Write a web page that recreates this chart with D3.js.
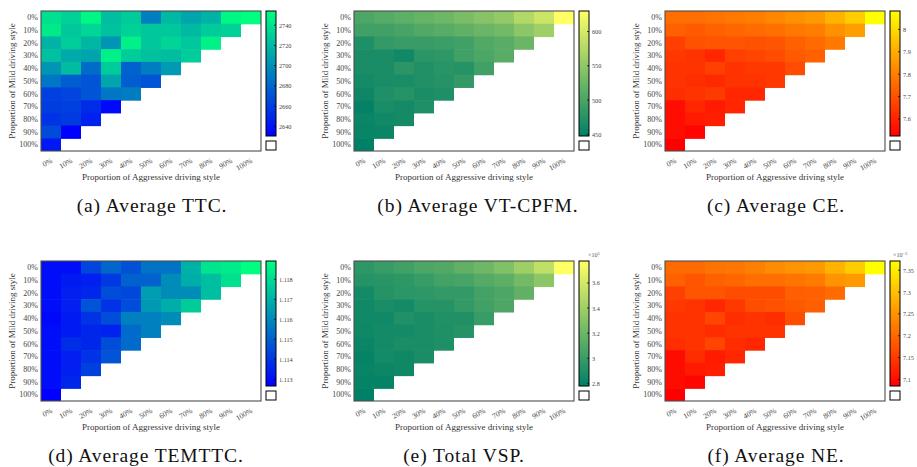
<!DOCTYPE html>
<html><head><meta charset="utf-8">
<script src="https://cdn.jsdelivr.net/npm/d3@7"></script>
<style>
body{margin:0;background:#fff}
svg{display:block}
text{font-family:"Liberation Serif","Times New Roman",serif}
</style>
</head><body>
<svg id="chart" width="917" height="467"></svg>
<script>
// ---------- data ----------
const aggressiveLabels = ["0%","10%","20%","30%","40%","50%","60%","70%","80%","90%","100%"];
const mildLabels       = ["0%","10%","20%","30%","40%","50%","60%","70%","80%","90%","100%"];

// rows: Mild proportion 0%..100%; columns: Aggressive proportion 0%..(100%-mild)
const ttc = [
  [2739,2732,2750,2723,2729,2692,2720,2711,2717,2750,2754],
  [2744,2727,2734,2725,2732,2727,2727,2720,2729,2732],
  [2717,2730,2719,2702,2747,2727,2733,2727,2747],
  [2724,2713,2710,2747,2729,2724,2722,2730],
  [2702,2722,2683,2729,2678,2691,2705],
  [2688,2676,2671,2711,2676,2671],
  [2661,2664,2671,2688,2691],
  [2660,2661,2652,2635],
  [2655,2659,2647],
  [2667,2630.5],
  [2642]
];
const vtcpfm = [
  [502,508,515,521,526,535,544,553,575,593,630],
  [493,493,499,506,511,517,524,530,548,561],
  [469,484,488,488,490,493,506,511,524],
  [466,466,460,478,480,493,502,511],
  [466,466,478,471,477,475,493],
  [462,466,466,471,475,484],
  [458,469,475,466,469],
  [451,466,462,469],
  [455,460,462],
  [453,455],
  [447.5]
];
const ce = [
  [7.764,7.764,7.775,7.786,7.800,7.820,7.842,7.859,7.915,7.970,8.082],
  [7.736,7.720,7.736,7.747,7.758,7.770,7.786,7.800,7.842,7.870],
  [7.663,7.703,7.708,7.708,7.703,7.708,7.736,7.758,7.786],
  [7.647,7.636,7.608,7.663,7.675,7.691,7.720,7.736],
  [7.636,7.636,7.663,7.636,7.647,7.647,7.691],
  [7.636,7.624,7.613,7.636,7.636,7.647],
  [7.624,7.636,7.652,7.608,7.608],
  [7.552,7.608,7.580,7.608],
  [7.552,7.580,7.591],
  [7.552,7.535],
  [7.524]
];
const temttc = [
  [1.11297,1.11297,1.11435,1.11516,1.11466,1.11548,1.11548,1.11704,1.11829,1.11842,1.11892],
  [1.11297,1.11329,1.11341,1.11404,1.11504,1.11504,1.11610,1.11692,1.11736,1.11817],
  [1.11297,1.11341,1.11360,1.11454,1.11441,1.11654,1.11610,1.11610,1.11736],
  [1.11297,1.11341,1.11473,1.11391,1.11454,1.11642,1.11692,1.11767],
  [1.11285,1.11329,1.11391,1.11454,1.11579,1.11579,1.11610],
  [1.11297,1.11329,1.11360,1.11350,1.11529,1.11579],
  [1.11297,1.11379,1.11360,1.11454,1.11529],
  [1.11297,1.11341,1.11391,1.11473],
  [1.11297,1.11341,1.11423],
  [1.11297,1.11360],
  [1.11266]
];
// Total VSP (x10^5)
const vsp = [
  [2.958,2.998,3.028,3.078,3.098,3.157,3.207,3.277,3.397,3.526,3.775],
  [2.928,2.938,2.958,2.998,3.048,3.058,3.108,3.148,3.227,3.327],
  [2.859,2.928,2.948,2.958,2.978,2.978,3.048,3.078,3.157],
  [2.849,2.879,2.859,2.928,2.928,2.978,3.028,3.078],
  [2.849,2.849,2.908,2.879,2.908,2.908,2.998],
  [2.839,2.859,2.859,2.879,2.899,2.928],
  [2.819,2.859,2.879,2.879,2.899],
  [2.799,2.859,2.839,2.879],
  [2.809,2.829,2.839],
  [2.799,2.799],
  [2.779]
];
// Average NE (x10^-3)
const ne = [
  [7.205,7.205,7.214,7.219,7.228,7.242,7.251,7.257,7.285,7.314,7.371],
  [7.194,7.179,7.194,7.199,7.208,7.208,7.214,7.222,7.251,7.257],
  [7.157,7.179,7.179,7.171,7.171,7.171,7.191,7.194,7.205],
  [7.148,7.142,7.128,7.148,7.171,7.177,7.185,7.191],
  [7.142,7.142,7.162,7.136,7.142,7.136,7.171],
  [7.142,7.142,7.134,7.142,7.142,7.142],
  [7.136,7.142,7.162,7.134,7.128],
  [7.099,7.134,7.114,7.128],
  [7.099,7.114,7.119],
  [7.099,7.091],
  [7.085]
];

const ttcTicks    = [2640,2660,2680,2700,2720,2740];
const vtcpfmTicks = [450,500,550,600];
const ceTicks     = [7.6,7.7,7.8,7.9,8];
const temttcTicks = [1.113,1.114,1.115,1.116,1.117,1.118];
const vspTicks    = [2.8,3,3.2,3.4,3.6];
const neTicks     = [7.1,7.15,7.2,7.25,7.3,7.35];

const captions = ["(a) Average TTC.","(b) Average VT-CPFM.","(c) Average CE.",
                  "(d) Average TEMTTC.","(e) Total VSP.","(f) Average NE."];
const exponents = [null,null,null,null,"5","\u22123"];

// ---------- colormaps (MATLAB-like) ----------
const winter = d3.interpolateRgb("rgb(0,0,255)","rgb(0,255,128)");
const summer = d3.interpolateRgb("rgb(0,128,102)","rgb(255,255,102)");
const autumn = d3.interpolateRgb("rgb(255,0,0)","rgb(255,255,0)");

const panels = [
  {data:ttc,    ticks:ttcTicks,    cmap:winter},
  {data:vtcpfm, ticks:vtcpfmTicks, cmap:summer},
  {data:ce,     ticks:ceTicks,     cmap:autumn},
  {data:temttc, ticks:temttcTicks, cmap:winter},
  {data:vsp,    ticks:vspTicks,    cmap:summer},
  {data:ne,     ticks:neTicks,     cmap:autumn}
];

// ---------- layout ----------
const colLeft = [41, 354, 665];
const rowTop = [11, 261];
const plotW = 220, plotH = 140;
const captionX = [152, 478, 776, 146, 464, 776];
const captionDY = 201;
const expX = [0,0,0,0,588,893];

const svg = d3.select("#chart");
const defs = svg.append("defs");

panels.forEach((p, k) => {
  const col = k % 3, row = Math.floor(k / 3);
  const L = colLeft[col], T = rowTop[row];
  const g = svg.append("g");

  const xs = d3.scaleBand().domain(aggressiveLabels).range([L, L + plotW]);
  const ys = d3.scaleBand().domain(mildLabels).range([T, T + plotH]);
  const flat = p.data.flat();
  const ext = d3.extent(flat);
  const color = d3.scaleSequential(p.cmap).domain(ext);

  // cells
  const cells = [];
  p.data.forEach((r, i) => r.forEach((v, j) => cells.push({i, j, v})));
  g.append("g").selectAll("rect").data(cells).join("rect")
    .attr("x", d => xs(aggressiveLabels[d.j]))
    .attr("y", d => ys(mildLabels[d.i]))
    .attr("width", d => xs.bandwidth() + (d.j < 10 - d.i ? 0.6 : 0))
    .attr("height", d => ys.bandwidth() + (d.i < 10 ? 0.6 : 0))
    .attr("fill", d => color(d.v));

  // frame
  g.append("rect").attr("x", L).attr("y", T).attr("width", plotW).attr("height", plotH)
    .attr("fill", "none").attr("stroke", "#4d4d4d").attr("stroke-width", 1.1);

  // y tick labels
  g.append("g").selectAll("text").data(mildLabels).join("text")
    .attr("x", L - 3).attr("y", d => ys(d) + ys.bandwidth() / 2)
    .attr("dy", "0.35em").attr("text-anchor", "end")
    .attr("font-size", 8).attr("fill", "#444").text(d => d);

  // x tick labels (rotated)
  g.append("g").selectAll("text").data(aggressiveLabels).join("text")
    .attr("transform", d => `translate(${xs(d) + xs.bandwidth() / 2 + 2},${T + plotH + 11}) rotate(-30)`)
    .attr("text-anchor", "end")
    .attr("font-size", 7.5).attr("fill", "#444").text(d => d);

  // axis titles
  g.append("text").attr("x", L + plotW / 2).attr("y", T + plotH + 29)
    .attr("text-anchor", "middle").attr("font-size", 9).attr("fill", "#333")
    .text("Proportion of Aggressive driving style");
  g.append("text").attr("transform", `translate(${L - 26},${T + plotH / 2}) rotate(-90)`)
    .attr("text-anchor", "middle").attr("font-size", 9).attr("fill", "#333")
    .text("Proportion of Mild driving style");

  // colorbar
  const cbX = L + plotW + 5, cbW = 10, cbH = 125;
  const cy = d3.scaleLinear().domain(ext).range([T + cbH, T]);
  const gid = "grad" + k;
  const grad = defs.append("linearGradient").attr("id", gid)
    .attr("x1", 0).attr("y1", 1).attr("x2", 0).attr("y2", 0);
  d3.range(0, 1.0001, 0.05).forEach(t =>
    grad.append("stop").attr("offset", t).attr("stop-color", p.cmap(t)));
  g.append("rect").attr("x", cbX).attr("y", T).attr("width", cbW).attr("height", cbH)
    .attr("fill", `url(#${gid})`).attr("stroke", "#000").attr("stroke-width", 1);
  const cbAxis = d3.axisRight(cy).tickValues(p.ticks).tickSize(0).tickPadding(3)
    .tickFormat(d => String(d));
  const ag = g.append("g").attr("transform", `translate(${cbX + cbW},0)`).call(cbAxis);
  ag.select(".domain").remove();
  ag.selectAll("text").attr("font-size", 6.2).attr("fill", "#444")
    .attr("font-family", '"Liberation Serif",serif');
  g.append("g").selectAll("line").data(p.ticks).join("line")
    .attr("x1", cbX + cbW - 2).attr("x2", cbX + cbW)
    .attr("y1", d => cy(d)).attr("y2", d => cy(d))
    .attr("stroke", "#000").attr("stroke-width", 0.7);
  // small "no data" box
  g.append("rect").attr("x", cbX).attr("y", T + 130).attr("width", cbW).attr("height", 9)
    .attr("fill", "#fff").attr("stroke", "#000").attr("stroke-width", 1);

  // exponent label
  if (exponents[k]) {
    const et = g.append("text").attr("x", expX[k]).attr("y", T - 4)
      .attr("font-size", 6).attr("fill", "#555");
    et.append("tspan").text("\u00d710");
    et.append("tspan").attr("dy", -2.5).attr("font-size", 4.5).text(exponents[k]);
  }

  // caption
  svg.append("text").attr("x", captionX[k]).attr("y", T + captionDY)
    .attr("text-anchor", "middle").attr("font-size", 19.5)
    .attr("letter-spacing", 0.9).attr("fill", "#111")
    .text(captions[k]);
});
</script>
</body></html>
